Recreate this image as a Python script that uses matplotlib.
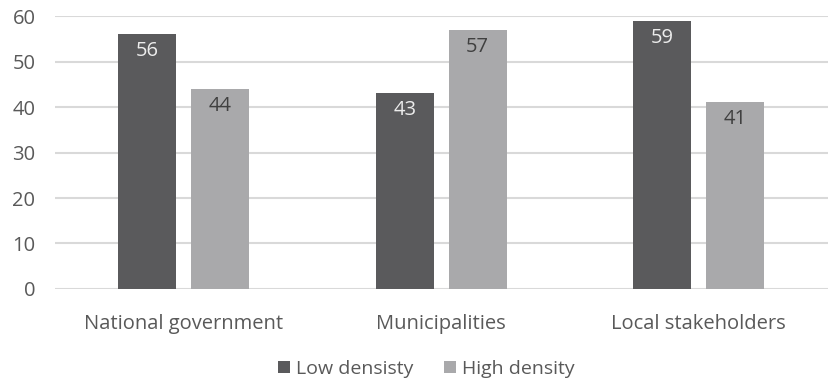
import numpy as np
import matplotlib
matplotlib.use("Agg")
import matplotlib.pyplot as plt

categories = ["National government", "Municipalities", "Local stakeholders"]
low_density = [56, 43, 59]
high_density = [44, 57, 41]
series_names = ["Low densisty", "High density"]
yticks = [0, 10, 20, 30, 40, 50, 60]

plt.rcParams['font.family'] = ['Open Sans', 'DejaVu Sans']

dark = "#5a5a5c"
light = "#a9a9ab"
text_col = "#595959"

fig = plt.figure(figsize=(8.31, 3.82), dpi=100)
ax = fig.add_axes([0.066, 0.2435, 0.93, 0.7145])

x = np.arange(len(categories))
w = 0.225
off = 0.1415
b1 = ax.bar(x - off, low_density, w, color=dark, label=series_names[0], zorder=3)
b2 = ax.bar(x + off, high_density, w, color=light, label=series_names[1], zorder=3)

# value labels just inside the top of each bar
for rects, vals, col in [(b1, low_density, "#ececec"), (b2, high_density, "#404040")]:
    for r, v in zip(rects, vals):
        ax.annotate(str(v), (r.get_x() + r.get_width() / 2, v),
                    xytext=(0, -5), textcoords="offset points",
                    ha="center", va="top", fontsize=14.5, color=col, zorder=4)

ax.set_xlim(-0.5, 2.5)
ax.set_ylim(0, 60)
ax.set_yticks(yticks)
ax.set_xticks(x)
ax.set_xticklabels(categories)
ax.yaxis.grid(True, color="#d9d9d9", linewidth=1.5, zorder=0)
for s in ax.spines.values():
    s.set_visible(False)
ax.tick_params(axis="both", length=0, labelsize=14.5, colors=text_col)
ax.tick_params(axis="x", pad=18)
ax.tick_params(axis="y", pad=14)

fig.legend(handles=[b1, b2], loc="center", bbox_to_anchor=(0.513, 0.035),
           ncol=2, frameon=False, fontsize=14, labelcolor=text_col,
           handlelength=0.6, handleheight=0.6, handletextpad=0.3, columnspacing=1.6)

fig.savefig("out.png", dpi=100)
